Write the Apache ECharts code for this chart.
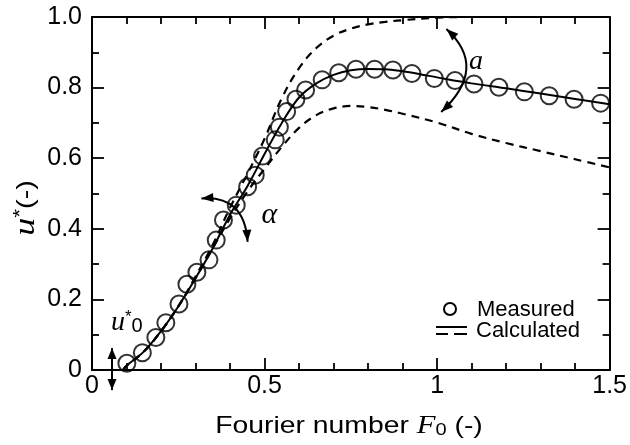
<!DOCTYPE html>
<html><head><meta charset="utf-8">
<script src="https://cdn.jsdelivr.net/npm/echarts@6/dist/echarts.min.js"></script>
<style>html,body{margin:0;padding:0;background:#fff}#c{width:630px;height:445px}</style>
</head><body><div id="c"></div>
<script>
// ---- data ----
const measuredX = [0.101,0.146,0.185,0.214,0.252,0.275,0.304,0.339,0.360,0.381,0.418,0.451,0.473,0.494,0.531,0.543,0.564,0.591,0.619,0.667,0.715,0.765,0.819,0.872,0.927,0.992,1.052,1.107,1.179,1.253,1.325,1.397,1.474];
const measuredY = [0.019,0.049,0.092,0.134,0.187,0.243,0.277,0.312,0.368,0.425,0.467,0.519,0.552,0.606,0.652,0.688,0.732,0.767,0.793,0.822,0.842,0.852,0.852,0.850,0.840,0.826,0.820,0.810,0.801,0.788,0.777,0.767,0.756];

const calcX = [0.09,0.1,0.15,0.2,0.25,0.3,0.35,0.4,0.45,0.5,0.55,0.6,0.65,0.7,0.75,0.8,0.85,0.9,0.95,1.0,1.1,1.2,1.3,1.4,1.5];
const calcY = [0,0.012,0.052,0.11,0.18,0.26,0.345,0.44,0.52,0.612,0.70,0.772,0.812,0.836,0.849,0.853,0.852,0.846,0.838,0.829,0.812,0.798,0.783,0.768,0.753];

const upperX = [0.09,0.1,0.15,0.2,0.25,0.3,0.35,0.4,0.45,0.5,0.55,0.6,0.65,0.7,0.75,0.8,0.85,0.9,1.0,1.1,1.2,1.5];
const upperY = [0,0.012,0.052,0.11,0.18,0.265,0.355,0.46,0.555,0.655,0.77,0.855,0.912,0.947,0.967,0.979,0.986,0.991,0.998,1.0,1.0,1.0];

const lowerX = [0.09,0.1,0.15,0.2,0.25,0.3,0.35,0.4,0.45,0.5,0.55,0.6,0.65,0.7,0.75,0.8,0.85,0.9,1.0,1.1,1.2,1.3,1.4,1.5];
const lowerY = [0,0.012,0.052,0.11,0.18,0.26,0.345,0.43,0.505,0.57,0.632,0.686,0.722,0.741,0.748,0.745,0.737,0.726,0.701,0.669,0.643,0.62,0.597,0.574];

const xTickLabels = ['0','0.5','1','1.5'];
const yTickLabels = ['0','0.2','0.4','0.6','0.8','1.0'];

const SANS = 'Liberation Sans, Arial, sans-serif';
const SERIF = 'Liberation Serif, Times New Roman, serif';

const zip = (xs, ys) => xs.map((x, i) => [x, ys[i]]);

const chart = echarts.init(document.getElementById('c'), null, {renderer: 'canvas'});

function axisCommon(isX, showLabel, pos) {
  return {
    type: 'value',
    position: pos,
    min: 0,
    max: isX ? 1.5 : 1.0,
    interval: isX ? 0.5 : 0.2,
    splitLine: {show: false},
    axisLine: {show: true, onZero: false, lineStyle: {color: '#000', width: 2}},
    axisTick: {show: true, inside: true, length: 12, lineStyle: {color: '#000', width: 1.8}},
    minorTick: {show: true, splitNumber: isX ? 5 : 2, length: 7, lineStyle: {color: '#000', width: 1.8}},
    minorSplitLine: {show: false},
    axisLabel: {
      show: showLabel,
      color: '#000',
      fontSize: 25,
      fontFamily: SANS,
      margin: isX ? 4 : 10,
      formatter: function (v) {
        const arr = isX ? xTickLabels : yTickLabels;
        const step = isX ? 0.5 : 0.2;
        const idx = Math.round(v / step);
        return arr[idx] !== undefined ? arr[idx] : '';
      }
    }
  };
}

const option = {
  animation: false,
  backgroundColor: '#fff',
  grid: {left: 92, right: 18, top: 17, bottom: 75, containLabel: false},
  xAxis: [axisCommon(true, true, 'bottom'), axisCommon(true, false, 'top')],
  yAxis: [axisCommon(false, true, 'left'), axisCommon(false, false, 'right')],
  series: [
    {name: 'Calculated', type: 'line', data: zip(calcX, calcY), smooth: 0.35, showSymbol: false,
     lineStyle: {color: '#000', width: 2}, z: 3},
    {name: 'upper', type: 'line', data: zip(upperX, upperY), smooth: 0.4, showSymbol: false,
     lineStyle: {color: '#000', width: 2.2, type: [8, 6]}, z: 2},
    {name: 'lower', type: 'line', data: zip(lowerX, lowerY), smooth: 0.35, showSymbol: false,
     lineStyle: {color: '#000', width: 2.2, type: [8, 6]}, z: 2},
    {name: 'Measured', type: 'scatter', data: zip(measuredX, measuredY), symbol: 'circle', symbolSize: 17,
     itemStyle: {color: 'rgba(0,0,0,0)', borderColor: '#000', borderWidth: 2}, z: 4}
  ]
};
chart.setOption(option);

// ---- annotations (positioned in data coordinates) ----
const P = (x, y) => chart.convertToPixel({xAxisIndex: 0, yAxisIndex: 0}, [x, y]);

function arrowHead(tip, from, len, wid) {
  const dx = tip[0] - from[0], dy = tip[1] - from[1];
  const d = Math.hypot(dx, dy) || 1;
  const ux = dx / d, uy = dy / d;
  const bx = tip[0] - ux * len, by = tip[1] - uy * len;
  return {type: 'polygon', shape: {points: [tip, [bx - uy * wid / 2, by + ux * wid / 2], [bx + uy * wid / 2, by - ux * wid / 2]]},
          style: {fill: '#000'}, z: 20};
}
function curvedArrow(s, c, e) {
  const S = P(s[0], s[1]), C = P(c[0], c[1]), E = P(e[0], e[1]);
  return [
    {type: 'bezierCurve', shape: {x1: S[0], y1: S[1], cpx1: C[0], cpy1: C[1], x2: E[0], y2: E[1]},
     style: {stroke: '#000', lineWidth: 2, fill: null}, z: 20},
    arrowHead(S, C, 12, 9),
    arrowHead(E, C, 12, 9)
  ];
}

const aArrow = {s: [1.027, 0.966], c: [1.150, 0.856], e: [1.012, 0.731]};
const alphaArrow = {s: [0.317, 0.486], c: [0.442, 0.496], e: [0.451, 0.363]};
const u0Arrow = {x: 0.058, top: 0.062, bottom: -0.057};

const g = [];
g.push(...curvedArrow(aArrow.s, aArrow.c, aArrow.e));
g.push(...curvedArrow(alphaArrow.s, alphaArrow.c, alphaArrow.e));
{
  const T = P(u0Arrow.x, u0Arrow.top), B = P(u0Arrow.x, u0Arrow.bottom);
  g.push({type: 'line', shape: {x1: T[0], y1: T[1], x2: B[0], y2: B[1]}, style: {stroke: '#000', lineWidth: 2}, z: 20});
  g.push(arrowHead(T, B, 11, 9));
  g.push(arrowHead(B, T, 11, 9));
}
const aPos = P(1.113, 0.873);
g.push({type: 'text', x: aPos[0], y: aPos[1], z: 20,
  style: {text: 'a', font: 'italic 28px ' + SERIF, fill: '#000', textAlign: 'center', textVerticalAlign: 'middle'}});
const alPos = P(0.514, 0.44);
g.push({type: 'text', x: alPos[0], y: alPos[1], z: 20,
  style: {text: 'α', font: 'italic 30px ' + SERIF, fill: '#000', textAlign: 'center', textVerticalAlign: 'middle'}});
const u0Pos = P(0.055, 0.135);
g.push({type: 'text', x: u0Pos[0], y: u0Pos[1], z: 20,
  style: {text: '{u|u}{s|*}{b|0}', textAlign: 'left', textVerticalAlign: 'middle',
    rich: {
      u: {font: 'italic 28px ' + SERIF, fill: '#000', verticalAlign: 'middle'},
      s: {font: '17px ' + SANS, fill: '#000', verticalAlign: 'top'},
      b: {font: '20px ' + SANS, fill: '#000', verticalAlign: 'bottom'}
    }}});

// legend
g.push({type: 'circle', shape: {cx: 450, cy: 309, r: 6}, style: {fill: 'none', stroke: '#000', lineWidth: 2}, z: 20});
g.push({type: 'text', x: 477, y: 310, z: 20, style: {text: 'Measured', font: '22px ' + SANS, fill: '#000', textAlign: 'left', textVerticalAlign: 'middle'}});
g.push({type: 'line', shape: {x1: 436, y1: 327, x2: 467, y2: 327}, style: {stroke: '#000', lineWidth: 2}, z: 20});
g.push({type: 'line', shape: {x1: 436, y1: 334, x2: 448, y2: 334}, style: {stroke: '#000', lineWidth: 2}, z: 20});
g.push({type: 'line', shape: {x1: 454, y1: 334, x2: 467, y2: 334}, style: {stroke: '#000', lineWidth: 2}, z: 20});
g.push({type: 'text', x: 476, y: 331, z: 20, style: {text: 'Calculated', font: '22px ' + SANS, fill: '#000', textAlign: 'left', textVerticalAlign: 'middle'}});

// axis titles
g.push({type: 'text', x: 349, y: 426, scaleX: 1.18, z: 20,
  style: {text: '{t|Fourier number }{f|F}{b|0}{t| (-)}', textAlign: 'center', textVerticalAlign: 'middle',
    rich: {
      t: {font: '24px ' + SANS, fill: '#000'},
      f: {font: 'italic 26px ' + SERIF, fill: '#000'},
      b: {font: '17px ' + SANS, fill: '#000', verticalAlign: 'bottom'}
    }}});
g.push({type: 'text', x: 26, y: 208, rotation: Math.PI / 2, scaleX: 1.2, z: 20,
  style: {text: '{u|u}{s|*}{t|(-)}', textAlign: 'center', textVerticalAlign: 'middle',
    rich: {
      u: {font: 'italic 30px ' + SERIF, fill: '#000'},
      s: {font: '19px ' + SANS, fill: '#000', verticalAlign: 'top'},
      t: {font: '24px ' + SANS, fill: '#000'}
    }}});

chart.setOption({graphic: {elements: g}});
</script>
</body></html>
